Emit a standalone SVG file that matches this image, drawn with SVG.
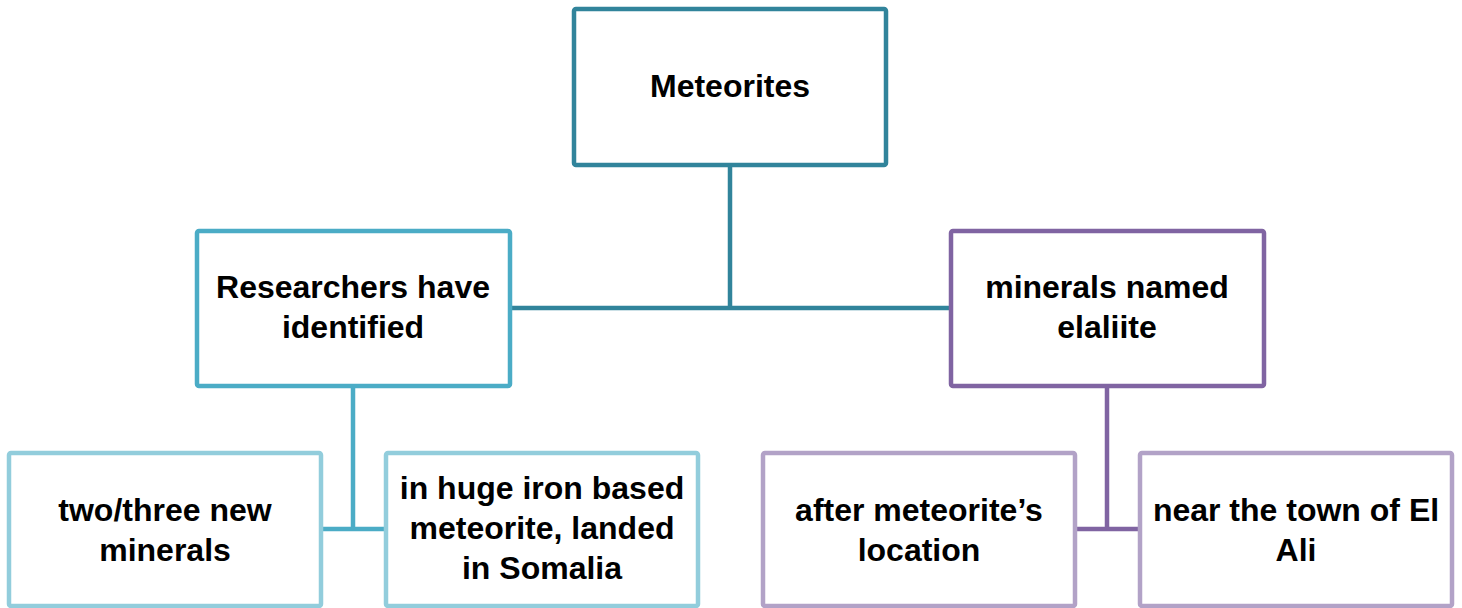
<svg xmlns="http://www.w3.org/2000/svg" width="1462" height="608" viewBox="0 0 1462 608">
<style>
.box{fill:#ffffff;stroke-width:4.5}
.t{font-family:"Liberation Sans",Arial,sans-serif;font-weight:bold;font-size:32px;fill:#000;text-anchor:middle}
.c{fill:none;stroke-width:4.5}
</style>
<rect width="1462" height="608" fill="#ffffff"/>
<g id="connectors">
<path class="c" stroke="#31849b" d="M730 165V308M510 308H950"/>
<path class="c" stroke="#4bacc6" d="M353 386V529M321 529H385"/>
<path class="c" stroke="#8064a2" d="M1107 386V529M1075 529H1139"/>
</g>
<g id="n-meteorites">
<rect class="box" stroke="#31849b" x="574" y="9" width="312" height="156" rx="2"/>
<text class="t" x="730" y="97">Meteorites</text>
</g>
<g id="n-researchers">
<rect class="box" stroke="#4bacc6" x="197" y="231" width="313" height="155" rx="2"/>
<text class="t" x="353" y="298">Researchers have</text>
<text class="t" x="353" y="338">identified</text>
</g>
<g id="n-minerals">
<rect class="box" stroke="#8064a2" x="951" y="231" width="313" height="155" rx="2"/>
<text class="t" x="1107" y="298">minerals named</text>
<text class="t" x="1107" y="338">elaliite</text>
</g>
<g id="n-two-three">
<rect class="box" stroke="#92cddc" x="9" y="453" width="312" height="153" rx="2"/>
<text class="t" x="165" y="521">two/three new</text>
<text class="t" x="165" y="561">minerals</text>
</g>
<g id="n-iron">
<rect class="box" stroke="#92cddc" x="386" y="453" width="312" height="153" rx="2"/>
<text class="t" x="542" y="499">in huge iron based</text>
<text class="t" x="542" y="539">meteorite, landed</text>
<text class="t" x="542" y="579">in Somalia</text>
</g>
<g id="n-after">
<rect class="box" stroke="#b2a2c7" x="763" y="453" width="312" height="153" rx="2"/>
<text class="t" x="919" y="521">after meteorite’s</text>
<text class="t" x="919" y="561">location</text>
</g>
<g id="n-near">
<rect class="box" stroke="#b2a2c7" x="1140" y="453" width="312" height="153" rx="2"/>
<text class="t" x="1296" y="521">near the town of El</text>
<text class="t" x="1296" y="561">Ali</text>
</g>
</svg>
